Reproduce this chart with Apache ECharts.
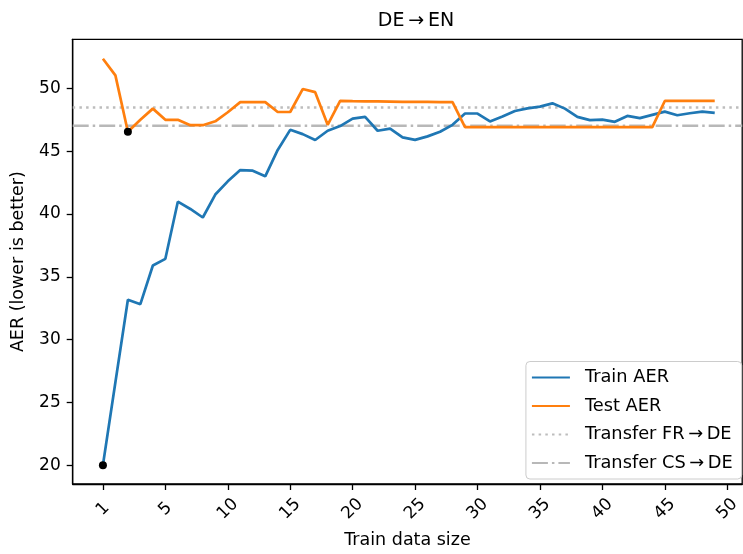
<!DOCTYPE html>
<html>
<head>
<meta charset="utf-8">
<script src="https://cdn.jsdelivr.net/npm/echarts@6/dist/echarts.min.js"></script>
<style>
html,body{margin:0;padding:0;background:#fff;}
#chart{width:743px;height:554px;}
</style>
</head>
<body>
<div id="chart"></div>
<script>
// ---- data ----
const trainAER = [20.0, 26.6, 33.17, 32.82, 35.9, 36.43, 40.98, 40.4, 39.72, 41.55,
  42.6, 43.5, 43.45, 43.0, 45.1, 46.7, 46.36, 45.89, 46.63, 47.0,
  47.6, 47.73, 46.63, 46.8, 46.1, 45.9, 46.18, 46.55, 47.1, 48.0,
  48.0, 47.37, 47.76, 48.2, 48.41, 48.55, 48.81, 48.39, 47.73, 47.47,
  47.52, 47.34, 47.81, 47.63, 47.89, 48.15, 47.86, 48.02, 48.15, 48.05];
const testAER = [52.36, 51.04, 46.55, 47.5, 48.39, 47.5, 47.5, 47.07, 47.07, 47.38,
  48.1, 48.91, 48.91, 48.91, 48.12, 48.12, 49.95, 49.7, 47.1, 49.0,
  48.98, 48.97, 48.96, 48.95, 48.93, 48.92, 48.92, 48.91, 48.91, 46.92,
  46.92, 46.92, 46.92, 46.92, 46.92, 46.92, 46.92, 46.92, 46.92, 46.92,
  46.92, 46.92, 46.92, 46.92, 46.92, 49.0, 49.0, 49.0, 49.0, 49.0];
const transferFR = 48.47;
const transferCS = 47.02;
const xTickValues = [0, 5, 10, 15, 20, 25, 30, 35, 40, 45, 50];
const xTickLabels = ['1', '5', '10', '15', '20', '25', '30', '35', '40', '45', '50'];
const yTickValues = [20, 25, 30, 35, 40, 45, 50];
const seriesNames = ['Train AER', 'Test AER', 'Transfer FR\u2009\u2192\u2009DE', 'Transfer CS\u2009\u2192\u2009DE'];
const titleText = 'DE\u2009\u2192\u2009EN';

// ---- layout ----
const X_MIN = -2.42, X_MAX = 51.2;
const Y_MIN = 18.5, Y_MAX = 53.91;
const FONT = 'DejaVu Sans';

function argmin(arr) {
  let k = 0;
  for (let i = 1; i < arr.length; i++) if (arr[i] < arr[k]) k = i;
  return k;
}
const trainPts = trainAER.map((v, i) => [i, v]);
const testPts = testAER.map((v, i) => [i, v]);
const iTr = argmin(trainAER), iTe = argmin(testAER);
const minPts = [[iTr, trainAER[iTr]], [iTe, testAER[iTe]]];

const chart = echarts.init(document.getElementById('chart'), null, {renderer: 'canvas'});
const axisCommon = {
  splitLine: {show: false},
  axisLine: {show: true, onZero: false, lineStyle: {color: '#000', width: 1.3}},
};
chart.setOption({
  animation: false,
  backgroundColor: '#fff',
  title: {
    text: titleText, left: 411, top: 7, textAlign: 'center',
    textStyle: {fontFamily: FONT, fontSize: 19, fontWeight: 'normal', color: '#000'}
  },
  grid: {left: 72.7, top: 39.3, right: -7, bottom: 65.7, show: true, borderColor: '#000', borderWidth: 1.3, backgroundColor: 'transparent'},
  legend: {
    data: seriesNames,
    orient: 'vertical', right: 1.3, bottom: 75,
    padding: [6, 9, 6, 5],
    itemWidth: 38, itemHeight: 14, itemGap: 8.5,
    backgroundColor: 'rgba(255,255,255,0.8)',
    borderColor: '#cccccc', borderWidth: 1, borderRadius: 4,
    itemStyle: {opacity: 0},
    textStyle: {fontFamily: FONT, fontSize: 17.8, color: '#000', lineHeight: 20, padding: [0, 0, 0, 10]}
  },
  xAxis: Object.assign({}, axisCommon, {
    type: 'value', min: X_MIN, max: X_MAX,
    axisTick: {show: true, length: 6, customValues: xTickValues, lineStyle: {color: '#000', width: 1.3}},
    axisLabel: {
      customValues: xTickValues,
      formatter: v => xTickLabels[xTickValues.indexOf(v)],
      rotate: 45, align: 'center', verticalAlign: 'middle', margin: 25,
      fontFamily: FONT, fontSize: 17, color: '#000'
    },
    name: 'Train data size', nameLocation: 'middle', nameGap: 47,
    nameTextStyle: {fontFamily: FONT, fontSize: 17.5, color: '#000'}
  }),
  yAxis: Object.assign({}, axisCommon, {
    type: 'value', min: Y_MIN, max: Y_MAX,
    axisTick: {show: true, length: 6, customValues: yTickValues, lineStyle: {color: '#000', width: 1.3}},
    axisLabel: {customValues: yTickValues, margin: 12, fontFamily: FONT, fontSize: 17, color: '#000'},
    name: 'AER (lower is better)', nameLocation: 'middle', nameGap: 45,
    nameTextStyle: {fontFamily: FONT, fontSize: 17.5, color: '#000'}
  }),
  series: [
    {
      name: seriesNames[2], type: 'line', symbol: 'none', z: 1,
      data: [[X_MIN, transferFR], [X_MAX, transferFR]],
      lineStyle: {color: '#bdbdbd', width: 2.5, type: [2.5, 4.2]}, itemStyle: {color: '#bdbdbd'}
    },
    {
      name: seriesNames[3], type: 'line', symbol: 'none', z: 1,
      data: [[X_MIN, transferCS], [X_MAX, transferCS]],
      lineStyle: {color: '#b8b8b8', width: 2.5, type: [16, 4, 2.5, 4]}, itemStyle: {color: '#b8b8b8'}
    },
    {
      name: seriesNames[0], type: 'line', symbol: 'none', z: 3,
      data: trainPts,
      lineStyle: {color: '#1f77b4', width: 2.7}, itemStyle: {color: '#1f77b4'}
    },
    {
      name: seriesNames[1], type: 'line', symbol: 'none', z: 3,
      data: testPts,
      lineStyle: {color: '#ff7f0e', width: 2.7}, itemStyle: {color: '#ff7f0e'}
    },
    {
      name: 'min', type: 'scatter', z: 5, symbolSize: 8,
      data: minPts, itemStyle: {color: '#000', opacity: 1}
    }
  ]
});
</script>
</body>
</html>
